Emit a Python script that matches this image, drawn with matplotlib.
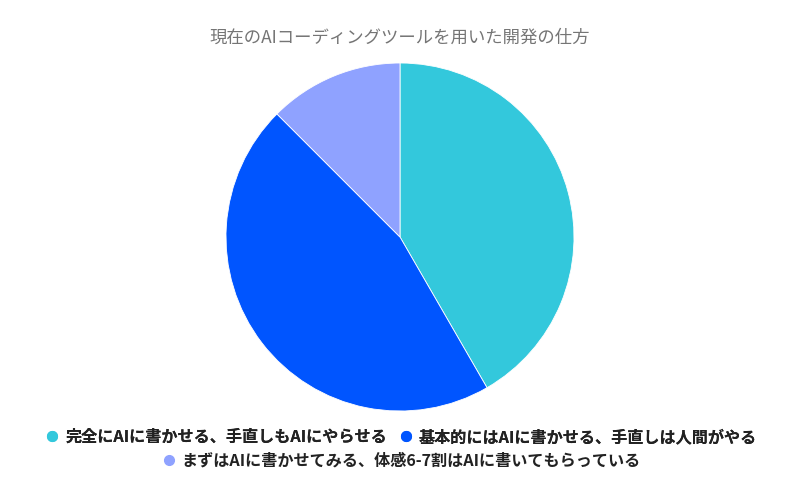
import matplotlib.pyplot as plt
from matplotlib.lines import Line2D

plt.rcParams['font.family'] = ['Noto Sans CJK JP', 'DejaVu Sans']

title = '現在のAIコーディングツールを用いた開発の仕方'
labels = [
    '完全にAIに書かせる、手直しもAIにやらせる',
    '基本的にはAIに書かせる、手直しは人間がやる',
    'まずはAIに書かせてみる、体感6-7割はAIに書いてもらっている',
]
values = [10, 11, 3]
colors = ['#33c8dc', '#0055ff', '#8fa2ff']

fig = plt.figure(figsize=(8, 4.93), dpi=100)
size = 348 / 493
ax = fig.add_axes([0.5 - size * 4.93 / 8 / 2, 256 / 493 - size / 2, size * 4.93 / 8, size])
ax.pie(values, colors=colors, startangle=90, counterclock=False,
       wedgeprops=dict(edgecolor='white', linewidth=0.6))
ax.set_xlim(-1, 1)
ax.set_ylim(-1, 1)
ax.set_aspect('equal')

fig.text(0.5, 1 - 38 / 493, title, ha='center', va='center', fontsize=12.5, color='#757575')

handles = [Line2D([], [], marker='o', linestyle='', markersize=7,
                  markerfacecolor=c, markeredgecolor=c) for c in colors]
leg1 = fig.legend(handles[:2], labels[:2], loc='center', bbox_to_anchor=(0.5, 1 - 437 / 493),
                  ncol=2, frameon=False, handletextpad=0.2, columnspacing=0.6,
                  handlelength=1.2, prop=dict(weight='bold', size=11.6))
leg2 = fig.legend(handles[2:], labels[2:], loc='center', bbox_to_anchor=(0.5, 1 - 461 / 493),
                  ncol=1, frameon=False, handletextpad=0.2, handlelength=1.2,
                  prop=dict(weight='bold', size=11.6))
fig.add_artist(leg1)
for leg in (leg1, leg2):
    for t in leg.get_texts():
        t.set_color('#222222')

fig.savefig('out.png', dpi=100)
